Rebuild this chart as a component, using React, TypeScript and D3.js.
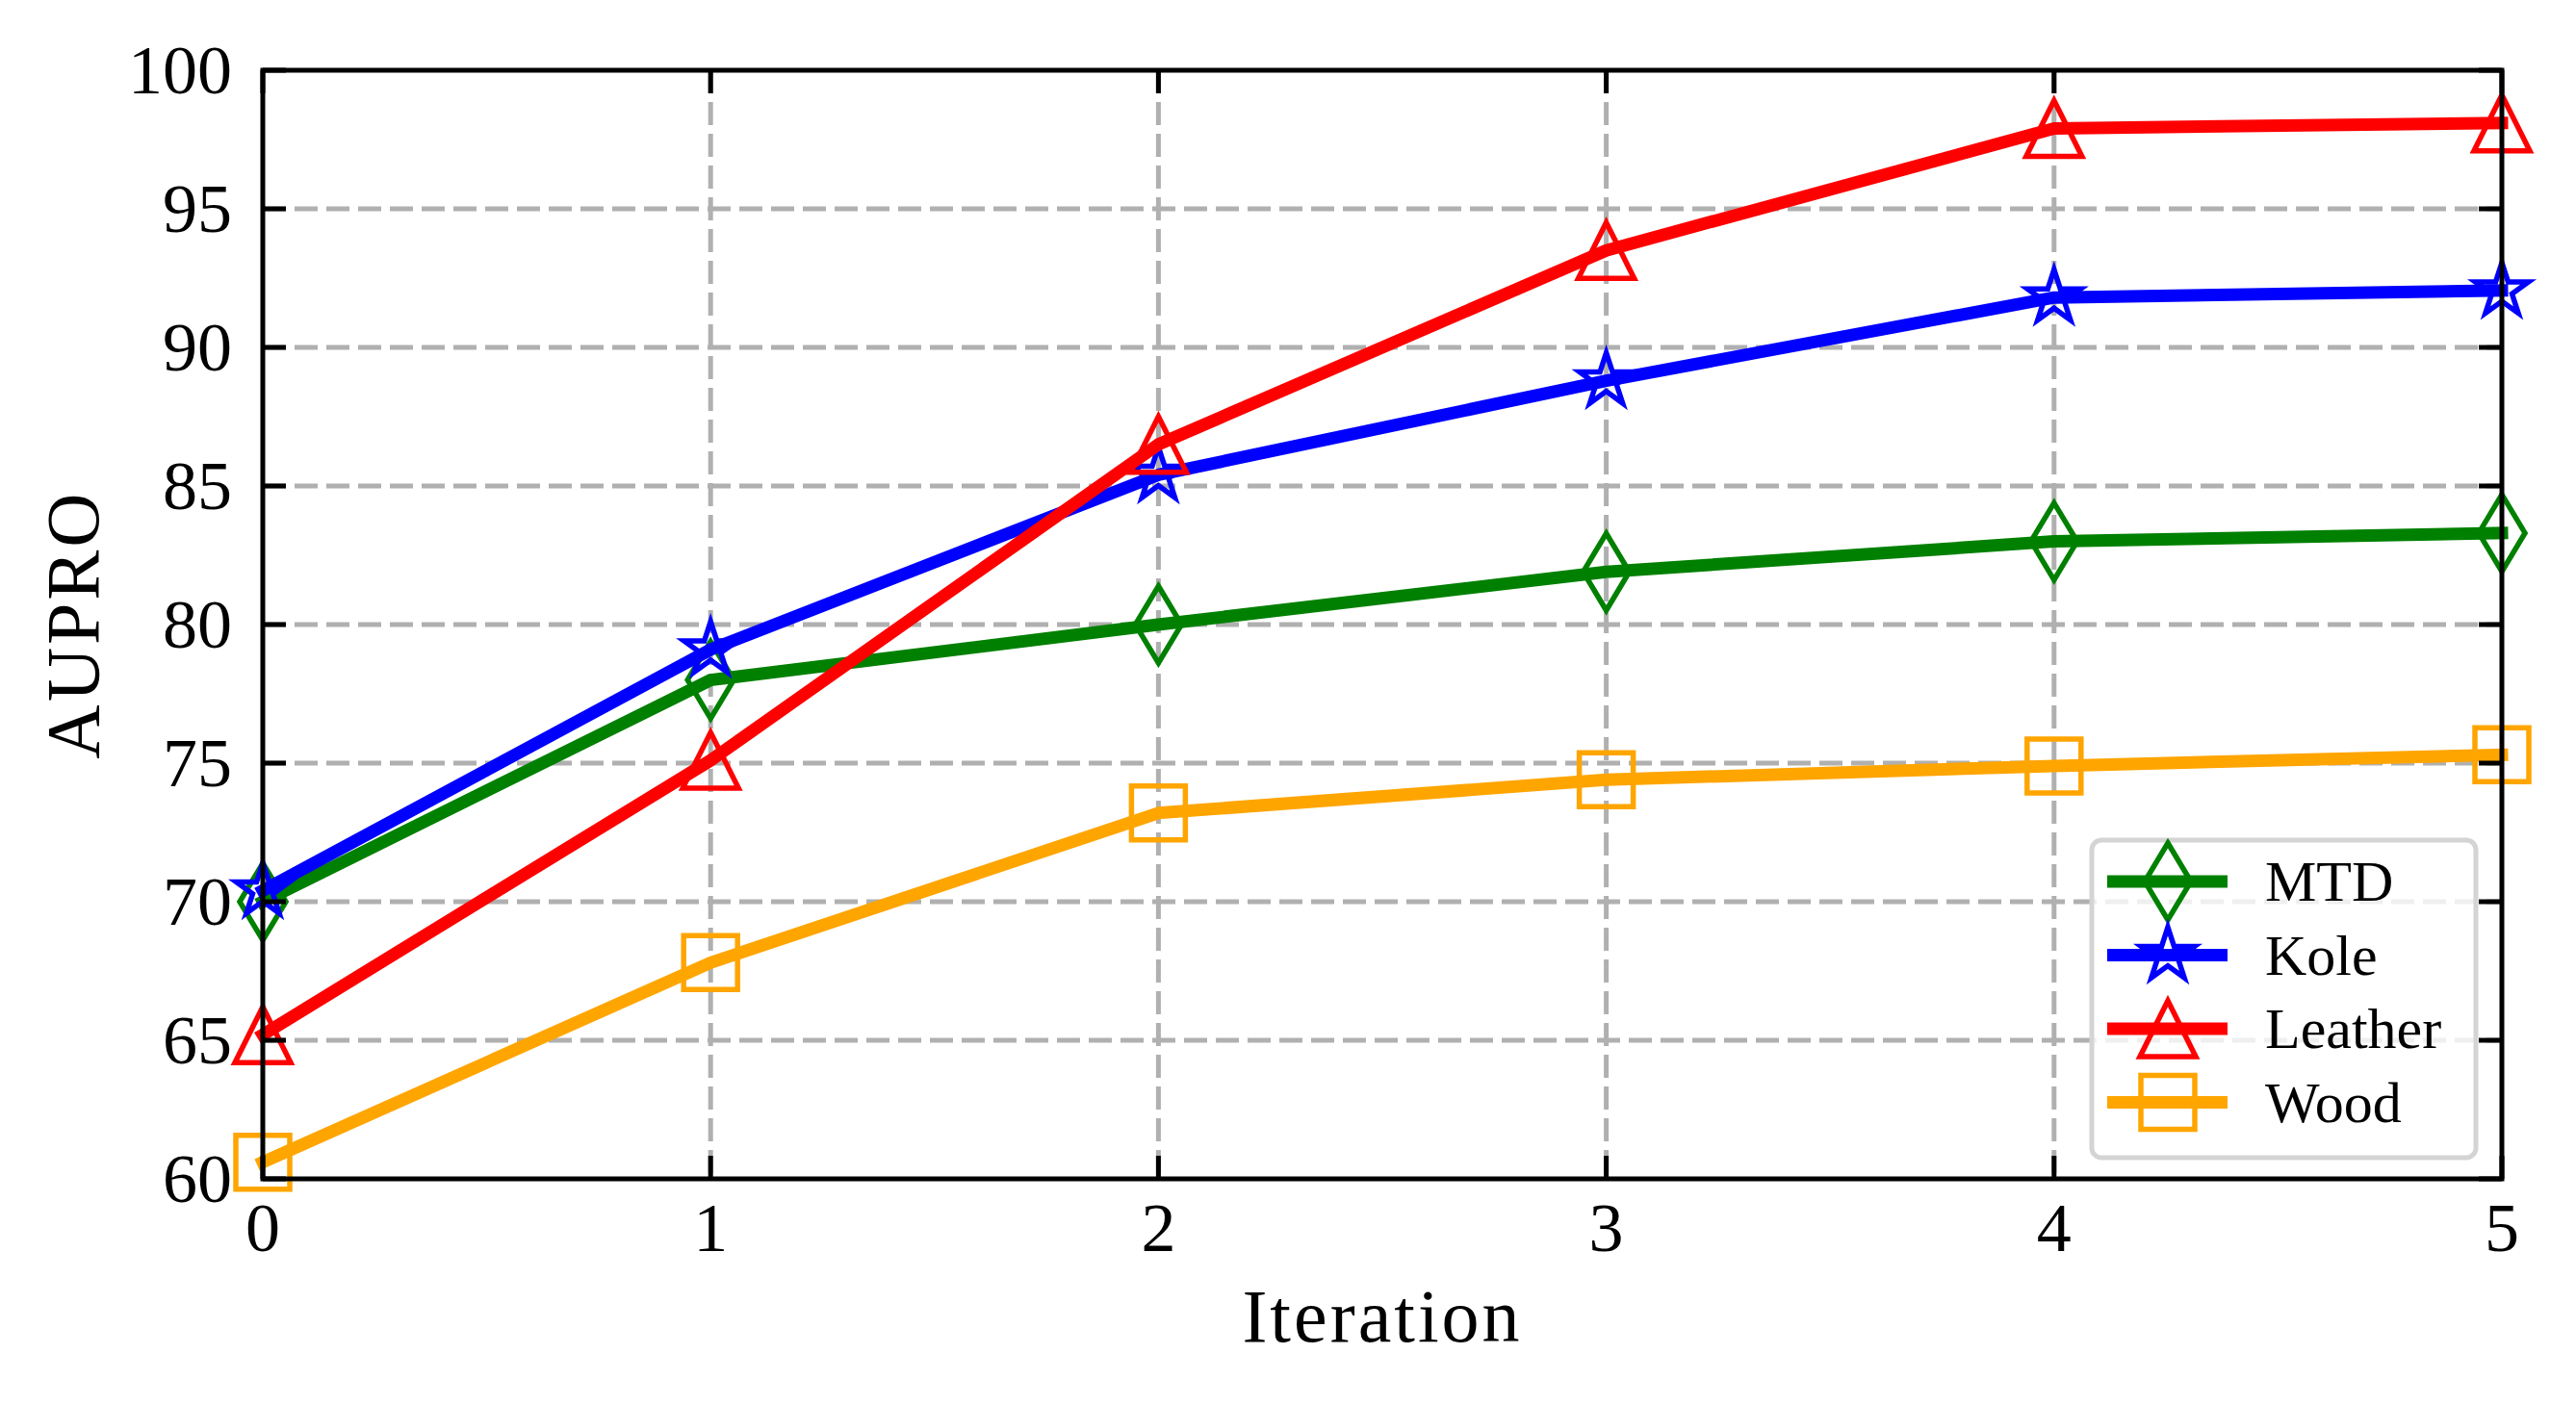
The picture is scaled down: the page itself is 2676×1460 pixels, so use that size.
import { useEffect } from 'react'
import * as d3 from 'd3'

const iterations = [0, 1, 2, 3, 4, 5]
const mtd = [70.0, 78.0, 80.0, 81.9, 83.0, 83.3]
const kole = [70.4, 79.1, 85.4, 88.8, 91.8, 92.05]
const leather = [65.2, 75.1, 86.5, 93.5, 97.9, 98.1]
const wood = [60.6, 67.8, 73.2, 74.4, 74.9, 75.3]

const seriesNames = ['MTD', 'Kole', 'Leather', 'Wood']
const seriesColors = ['green', 'blue', 'red', 'orange']
const seriesMarkers = ['diamond', 'star', 'triangle', 'square']
const seriesValues = [mtd, kole, leather, wood]

const yTicks = [60, 65, 70, 75, 80, 85, 90, 95, 100]
const xTicks = [0, 1, 2, 3, 4, 5]

const W = 2676
const H = 1460
const FONT = '"Liberation Serif", "Times New Roman", serif'

// marker outlines, centred on 0,0
function markerPath(kind: string): string {
  if (kind === 'diamond') {
    const h = 40, w = 24
    return `M0,${-h}L${w},0L0,${h}L${-w},0Z`
  }
  if (kind === 'triangle') {
    const s = 29
    return `M0,${-s}L${s},${s}L${-s},${s}Z`
  }
  if (kind === 'square') {
    const s = 28
    return `M${-s},${-s}H${s}V${s}H${-s}Z`
  }
  // five point star
  const R = 29
  const r = R * 0.381966
  const pts: string[] = []
  for (let i = 0; i < 10; i++) {
    const a = -Math.PI / 2 + (i * Math.PI) / 5
    const rad = i % 2 === 0 ? R : r
    pts.push(`${(rad * Math.cos(a)).toFixed(2)},${(rad * Math.sin(a)).toFixed(2)}`)
  }
  return 'M' + pts.join('L') + 'Z'
}

const Marker = ({ kind, x, y, color }: { kind: string; x: number; y: number; color: string }) => (
  <path
    d={markerPath(kind)}
    transform={`translate(${x},${y})`}
    fill="none"
    stroke={color}
    strokeWidth={5.5}
    strokeLinejoin="miter"
  />
)

export default function App() {
  useEffect(() => {
    document.body.style.margin = '0'
  }, [])

  const left = 273
  const right = 2599
  const top = 73
  const bottom = 1225

  const x = d3.scaleLinear().domain([0, 5]).range([left, right])
  const y = d3.scaleLinear().domain([60, 100]).range([bottom, top])

  const line = d3
    .line<number>()
    .x((_, i) => x(iterations[i]))
    .y((d) => y(d))

  const tickLen = 24
  const legendX = 2173
  const legendY = 873
  const legendW = 399
  const legendH = 330
  const rowY0 = 916
  const rowStep = 76.5

  return (
    <svg width={W} height={H} style={{ display: 'block', background: '#fff' }}>
      <rect x={0} y={0} width={W} height={H} fill="#fff" />

      {/* grid */}
      <g stroke="#b0b0b0" strokeWidth={5} strokeDasharray="24 9">
        {yTicks
          .filter((t) => t > 60 && t < 100)
          .map((t) => (
            <line key={'gy' + t} x1={left} x2={right} y1={y(t)} y2={y(t)} />
          ))}
        {xTicks
          .filter((t) => t > 0 && t < 5)
          .map((t) => (
            <line key={'gx' + t} x1={x(t)} x2={x(t)} y1={top} y2={bottom} />
          ))}
      </g>

      {/* series */}
      {seriesValues.map((vals, si) => (
        <g key={seriesNames[si]}>
          <path
            d={line(vals) ?? ''}
            fill="none"
            stroke={seriesColors[si]}
            strokeWidth={13}
            strokeLinecap="square"
            strokeLinejoin="round"
          />
          {vals.map((v, i) => (
            <Marker key={i} kind={seriesMarkers[si]} x={x(iterations[i])} y={y(v)} color={seriesColors[si]} />
          ))}
        </g>
      ))}

      {/* spines */}
      <rect x={left} y={top} width={right - left} height={bottom - top} fill="none" stroke="#000" strokeWidth={5} />

      {/* ticks, pointing in, on all sides */}
      <g stroke="#000" strokeWidth={5}>
        {xTicks.map((t) => (
          <g key={'tx' + t}>
            <line x1={x(t)} x2={x(t)} y1={bottom} y2={bottom - tickLen} />
            <line x1={x(t)} x2={x(t)} y1={top} y2={top + tickLen} />
          </g>
        ))}
        {yTicks.map((t) => (
          <g key={'ty' + t}>
            <line x1={left} x2={left + tickLen} y1={y(t)} y2={y(t)} />
            <line x1={right} x2={right - tickLen} y1={y(t)} y2={y(t)} />
          </g>
        ))}
      </g>

      {/* tick labels */}
      <g fontFamily={FONT} fontSize={72} fill="#000">
        {xTicks.map((t) => (
          <text key={'lx' + t} x={x(t)} y={1300} textAnchor="middle">
            {t}
          </text>
        ))}
        {yTicks.map((t) => (
          <text key={'ly' + t} x={241} y={y(t) + 24} textAnchor="end">
            {t}
          </text>
        ))}
      </g>

      {/* axis titles */}
      <text
        x={(left + right) / 2}
        y={1394}
        textAnchor="middle"
        fontFamily={FONT}
        fontSize={78}
        letterSpacing={3}
      >
        Iteration
      </text>
      <text
        transform={`translate(102,${(top + bottom) / 2}) rotate(-90)`}
        textAnchor="middle"
        fontFamily={FONT}
        fontSize={78}
        letterSpacing={3}
      >
        AUPRO
      </text>

      {/* legend */}
      <rect
        x={legendX}
        y={legendY}
        width={legendW}
        height={legendH}
        rx={10}
        ry={10}
        fill="#fff"
        fillOpacity={0.8}
        stroke="#d4d4d4"
        strokeWidth={5}
      />
      {seriesNames.map((name, i) => {
        const cy = rowY0 + i * rowStep
        return (
          <g key={'lg' + name}>
            <line x1={2189} x2={2314} y1={cy} y2={cy} stroke={seriesColors[i]} strokeWidth={13} />
            <Marker kind={seriesMarkers[i]} x={2252} y={cy} color={seriesColors[i]} />
            <text x={2353} y={cy + 20} fontFamily={FONT} fontSize={60}>
              {name}
            </text>
          </g>
        )
      })}
    </svg>
  )
}
